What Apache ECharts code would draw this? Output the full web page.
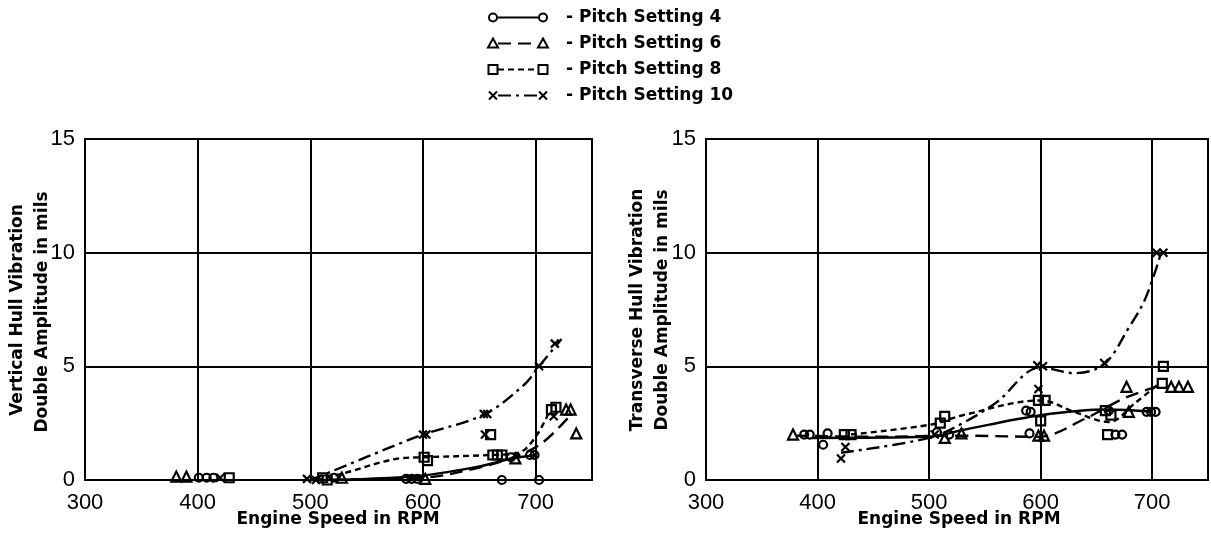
<!DOCTYPE html>
<html>
<head>
<meta charset="utf-8">
<script src="https://cdn.jsdelivr.net/npm/echarts@6/dist/echarts.min.js"></script>
<style>
  html, body { margin: 0; padding: 0; background: #fff; }
  #chart { width: 1211px; height: 534px; }
</style>
</head>
<body>
<div id="chart"></div>
<script>
// Axis ticks
const xTicks = [300, 400, 500, 600, 700];
const yTicks = [0, 5, 10, 15];
const pitchNames = ['Pitch Setting 4', 'Pitch Setting 6', 'Pitch Setting 8', 'Pitch Setting 10'];

// Vertical hull vibration: measured points [rpm, mils]
const vertP4 = [[401, 0.1], [408, 0.1], [414, 0.1], [521, 0.1], [585, 0.05], [590, 0.05], [595, 0.05],
                [670, 0], [678, 1.0], [695, 1.1], [699, 1.1], [703, 0]];
const vertP6 = [[381, 0.15], [390, 0.15], [528, 0.1], [602, 0.05], [682, 0.95], [727, 3.1], [731, 3.1], [736, 2.05]];
const vertP8 = [[428, 0.1], [511, 0.1], [515, 0], [601, 1.0], [604, 0.85], [660, 2.0],
                [662, 1.1], [666, 1.1], [670, 1.1], [714, 3.1], [718, 3.2]];
const vertP10 = [[420, 0.1], [497, 0.05], [505, 0], [600, 2.0], [603, 2.0], [654, 2.9], [657, 2.9],
                 [655, 2.0], [703, 5.0], [717, 6.0], [716, 2.8]];

// Vertical hull vibration: faired curves [rpm, mils]
const vertCurve4 = [[500, 0], [550, 0.05], [600, 0.2], [650, 0.6], [680, 0.95], [700, 1.1]];
const vertCurve6 = [[500, 0], [600, 0.1], [650, 0.55], [680, 1.0], [705, 1.6], [730, 2.8]];
const vertCurve8 = [[505, 0], [530, 0.3], [579, 0.95], [600, 1.0], [660, 1.1], [685, 1.2], [700, 1.9], [712, 3.0]];
const vertCurve10 = [[500, 0], [520, 0.4], [579, 1.6], [600, 2.0], [655, 2.9], [690, 4.2], [703, 5.0], [723, 6.2]];

// Transverse hull vibration: measured points [rpm, mils]
const transP4 = [[388, 2.0], [393, 2.0], [405, 1.55], [409, 2.05], [507, 2.1], [518, 2.0], [587, 3.05],
                 [591, 3.0], [590, 2.05], [661, 3.05], [667, 2.0], [673, 2.0], [695, 3.0], [699, 3.0], [703, 3.0]];
const transP6 = [[378, 2.0], [514, 1.85], [529, 2.05], [598, 1.95], [603, 1.95], [679, 3.0], [677, 4.1],
                 [717, 4.1], [724, 4.1], [732, 4.1]];
const transP8 = [[424, 2.0], [430, 2.0], [510, 2.5], [514, 2.8], [598, 3.5], [604, 3.5], [600, 2.6],
                 [658, 3.05], [663, 2.85], [660, 2.0], [709, 4.25], [710, 5.0]];
const transP10 = [[421, 0.95], [425, 1.45], [505, 2.0], [597, 5.05], [602, 5.0], [598, 4.0], [657, 5.15],
                  [704, 10.0], [710, 10.0]];

// Transverse hull vibration: faired curves [rpm, mils]
const transCurve4 = [[395, 1.85], [500, 1.9], [530, 2.2], [600, 2.85], [660, 3.1], [700, 3.0]];
const transCurve6 = [[380, 1.95], [450, 1.9], [530, 1.95], [598, 1.9], [640, 2.7], [675, 3.6], [710, 4.2]];
const transCurve8 = [[430, 2.0], [503, 2.45], [530, 2.85], [600, 3.5], [630, 3.0], [661, 2.55], [685, 3.4], [705, 4.2]];
const transCurve10 = [[421, 1.2], [500, 1.85], [530, 2.5], [560, 3.4], [600, 4.95], [630, 4.7], [657, 5.1],
                      [679, 6.7], [694, 8.0], [708, 10.0]];

const INK = '#000';
const TITLE_FONT = '"DejaVu Sans", sans-serif';
const TICK_FONT = '"Liberation Sans", Arial, sans-serif';

// Per-pitch marker and line style
const pitchStyles = [
  { symbol: 'circle', size: 8, dash: 'solid' },
  { symbol: 'triangle', size: 10, dash: [13, 7] },
  { symbol: 'rect', size: 9, dash: [6, 4] },
  { symbol: 'path://M0,0L10,10M10,0L0,10', size: 8, dash: [13, 5, 3, 5] }
];

const panels = [
  { points: [vertP4, vertP6, vertP8, vertP10], curves: [vertCurve4, vertCurve6, vertCurve8, vertCurve10] },
  { points: [transP4, transP6, transP8, transP10], curves: [transCurve4, transCurve6, transCurve8, transCurve10] }
];

const series = [];
panels.forEach((panel, pi) => {
  pitchStyles.forEach((st, k) => {
    series.push({
      name: pitchNames[k],
      type: 'line',
      xAxisIndex: pi, yAxisIndex: pi,
      data: panel.curves[k],
      smooth: 0.35,
      symbol: 'none',
      silent: true,
      z: 2,
      lineStyle: { color: INK, width: 2.4, type: st.dash, opacity: 1 }
    });
    series.push({
      name: pitchNames[k],
      type: 'scatter',
      xAxisIndex: pi, yAxisIndex: pi,
      data: panel.points[k],
      symbol: st.symbol,
      symbolSize: st.size,
      z: 3,
      itemStyle: { color: 'rgba(255,255,255,0)', borderColor: INK, borderWidth: 2.2, opacity: 1 }
    });
  });
});

function xAxisFor(gridIndex) {
  return {
    type: 'value', gridIndex, min: 300, max: 750, interval: 100,
    axisLine: { show: true, lineStyle: { color: INK, width: 2 } },
    axisTick: { show: false },
    splitLine: { show: true, lineStyle: { color: INK, width: 2 } },
    axisLabel: {
      margin: 12, color: INK, fontFamily: TICK_FONT, fontSize: 22,
      formatter: v => (xTicks.indexOf(v) >= 0 ? String(v) : '')
    }
  };
}
function yAxisFor(gridIndex) {
  return {
    type: 'value', gridIndex, min: 0, max: 15, interval: 5,
    axisLine: { show: true, lineStyle: { color: INK, width: 2 } },
    axisTick: { show: false },
    splitLine: { show: true, lineStyle: { color: INK, width: 2 } },
    axisLabel: {
      margin: 10, color: INK, fontFamily: TICK_FONT, fontSize: 22,
      formatter: v => (yTicks.indexOf(v) >= 0 ? String(v) : '')
    }
  };
}

// Legend rows drawn as graphics: marker, styled line, marker, caption
const legendRows = [];
pitchStyles.forEach((st, k) => {
  const y = 17.5 + k * 26;
  const x1 = 493, x2 = 543;
  const marker = (cx) => {
    const s = { stroke: INK, lineWidth: 2, fill: '#fff' };
    if (k === 0) return { type: 'circle', shape: { cx, cy: y, r: 4 }, style: s };
    if (k === 1) return { type: 'polygon', shape: { points: [[cx, y - 5], [cx + 5, y + 4], [cx - 5, y + 4]] }, style: s };
    if (k === 2) return { type: 'rect', shape: { x: cx - 4.5, y: y - 4.5, width: 9, height: 9 }, style: s };
    return { type: 'group', children: [
      { type: 'line', shape: { x1: cx - 4, y1: y - 4, x2: cx + 4, y2: y + 4 }, style: { stroke: INK, lineWidth: 2 } },
      { type: 'line', shape: { x1: cx + 4, y1: y - 4, x2: cx - 4, y2: y + 4 }, style: { stroke: INK, lineWidth: 2 } }
    ] };
  };
  legendRows.push({
    type: 'line',
    shape: { x1: x1 + 5, y1: y, x2: x2 - 5, y2: y },
    style: { stroke: INK, lineWidth: 2.2, lineDash: st.dash === 'solid' ? null : st.dash }
  });
  legendRows.push(marker(x1));
  legendRows.push(marker(x2));
  legendRows.push({
    type: 'text', x: 566, y: y,
    style: { text: '- ' + pitchNames[k], fill: INK, font: 'bold 17px ' + TITLE_FONT, textVerticalAlign: 'middle', textAlign: 'left' }
  });
});

// Axis titles
function titleText(text, x, y, rotate) {
  return {
    type: 'text', x, y, rotation: rotate ? Math.PI / 2 : 0,
    style: { text, fill: INK, font: 'bold 17px ' + TITLE_FONT, textAlign: 'center', textVerticalAlign: 'middle' }
  };
}
const axisTitles = [
  titleText('Engine Speed in RPM', 338, 520, false),
  titleText('Engine Speed in RPM', 959, 520, false),
  titleText('Vertical Hull Vibration', 18, 310, true),
  titleText('Double Amplitude in mils', 43, 312, true),
  titleText('Transverse Hull Vibration', 638, 310, true),
  titleText('Double Amplitude in mils', 663, 310, true)
];

const chart = echarts.init(document.getElementById('chart'), null, { renderer: 'canvas' });
chart.setOption({
  backgroundColor: '#fff',
  animation: false,
  grid: [
    { left: 85, top: 139, width: 507, height: 341, show: true, borderColor: INK, borderWidth: 2, backgroundColor: 'transparent' },
    { left: 706, top: 139, width: 511, height: 341, show: true, borderColor: INK, borderWidth: 2, backgroundColor: 'transparent' }
  ],
  xAxis: [xAxisFor(0), xAxisFor(1)],
  yAxis: [yAxisFor(0), yAxisFor(1)],
  series,
  graphic: legendRows.concat(axisTitles)
});
</script>
</body>
</html>
